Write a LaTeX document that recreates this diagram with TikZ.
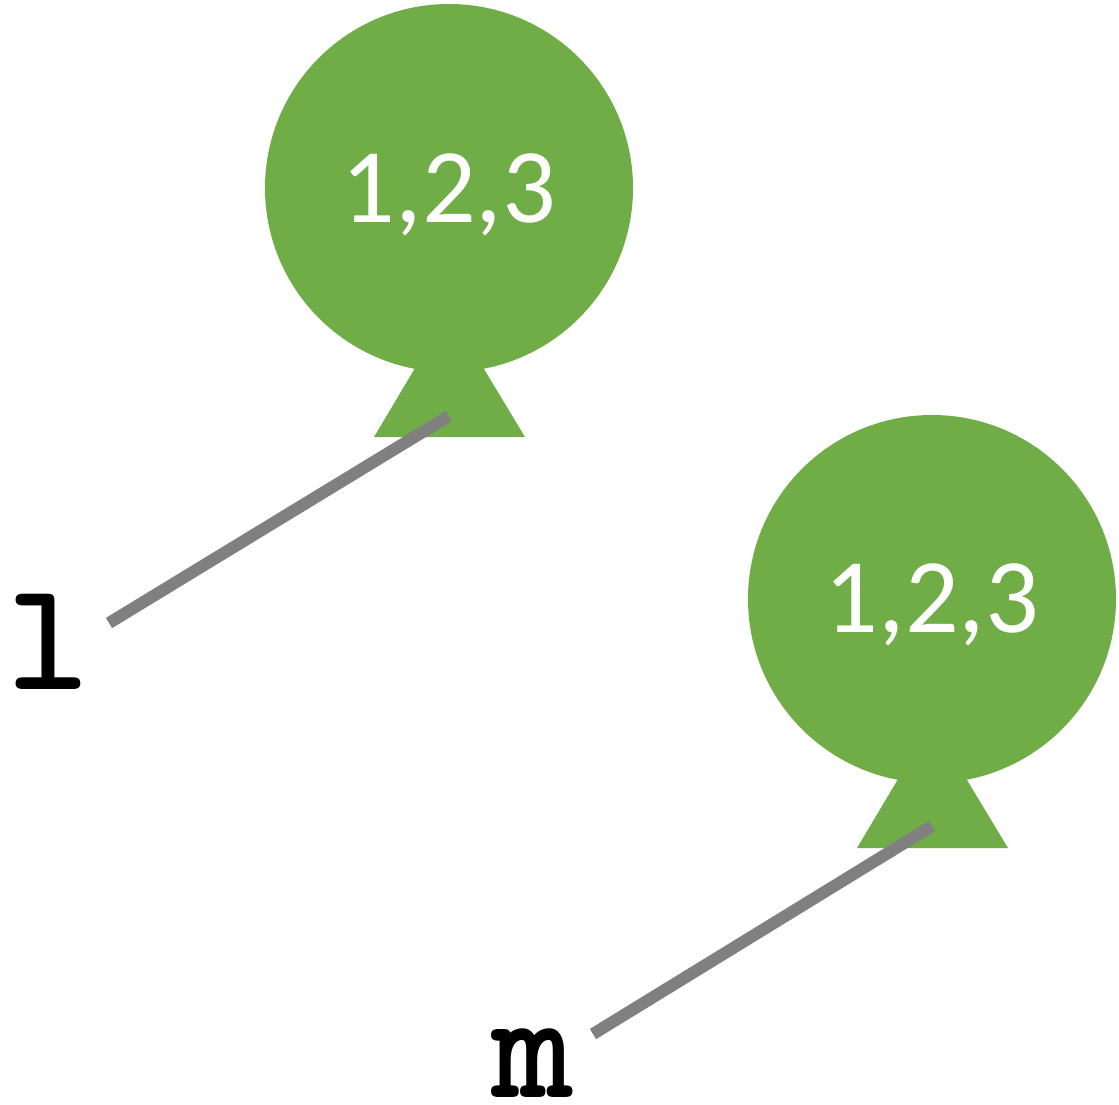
\documentclass[tikz,border=0pt]{standalone}
\usepackage{fontspec}
\newfontfamily\digitfont{Carlito}
\definecolor{pingreen}{HTML}{70AD47}
\definecolor{linkgray}{HTML}{808080}
\begin{document}
\begin{tikzpicture}[x=1pt,y=-1pt,
  pin/.style={circle,fill=pingreen,draw=none,minimum size=368pt,inner sep=0pt},
  pintri/.style={fill=pingreen,draw=none},
  pinlabel/.style={text=white,font=\digitfont\fontsize{106}{110}\selectfont,anchor=base},
  letter/.style={font=\ttfamily\bfseries\fontsize{156}{160}\selectfont,inner sep=0pt,anchor=base},
  link/.style={draw=linkgray,line width=12pt}]
\useasboundingbox (0,0) rectangle (1119,1105);
% pin 1
\node[pin] (c1) at (449,188) {};
\fill[pintri] (449,311) -- (374,437) -- (525,437) -- cycle;
\node[pinlabel] (t1) at (449,222) {1,2,3};
\coordinate (p1) at (449,416);
% pin 2
\node[pin] (c2) at (932,599) {};
\fill[pintri] (932,722) -- (857,848) -- (1008,848) -- cycle;
\node[pinlabel] (t2) at (932,632) {1,2,3};
\coordinate (p2) at (932,826);
% letters
\node[letter] (l) at (48,689) {l};
\node[letter] (m) at (532,1097) {m};
\coordinate (lend) at (109,623);
\coordinate (mend) at (593,1034);
\draw[link] (lend) -- (p1);
\draw[link] (mend) -- (p2);
\end{tikzpicture}
\end{document}
